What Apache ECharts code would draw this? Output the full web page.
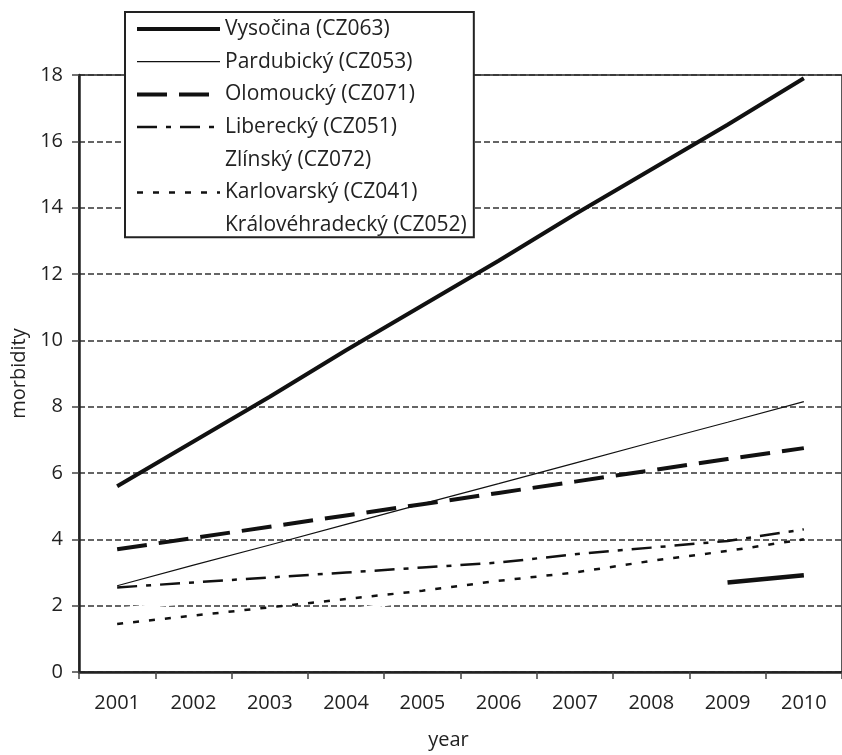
<!DOCTYPE html>
<html>
<head>
<meta charset="utf-8">
<script src="https://cdn.jsdelivr.net/npm/echarts@6/dist/echarts.min.js"></script>
<style>
  html, body { margin: 0; padding: 0; background: #fff; }
  #chart { width: 842px; height: 755px; }
</style>
</head>
<body>
<div id="chart"></div>
<script>
// roky
var years = ['2001', '2002', '2003', '2004', '2005', '2006', '2007', '2008', '2009', '2010'];

// hodnoty
var vysocina = [5.6, 6.95, 8.3, 9.7, 11.05, 12.4, 13.8, 15.15, 16.5, 17.9];
var pardubicky = [2.6, 3.22, 3.83, 4.45, 5.07, 5.68, 6.3, 6.92, 7.53, 8.15];
var olomoucky = [3.7, 4.04, 4.38, 4.72, 5.06, 5.4, 5.74, 6.08, 6.42, 6.75];
var liberecky = [2.55, 2.7, 2.85, 3.0, 3.15, 3.3, 3.55, 3.75, 3.95, 4.3];
var zlinsky = [1.9, 2.1, 2.15, 2.2, 2.2, 2.25, 2.3, 2.35, 2.4, 2.45];
var karlovarsky = [1.45, 1.7, 1.95, 2.2, 2.45, 2.75, 3.0, 3.35, 3.65, 4.0];
var kralovehradecky = [1.6, 1.7, 1.8, 1.85, 2.2, 2.3, 2.4, 2.5, 2.6, 2.7];
var extraSegment = [null, null, null, null, null, null, null, null, 2.7, 2.92];

var yTicks = { min: 0, max: 18, interval: 2 };

var font = 'Open Sans';

/*styly čar: [šířka, typ, barva]*/
var styles = {
    'Vysočina (CZ063)': [4, 'solid', '#111'],
    'Pardubický (CZ053)': [1.2, 'solid', '#111'],
    'Olomoucký (CZ071)': [4, [30, 12], '#111'],
    'Liberecký (CZ051)': [2.5, [20, 9, 5, 9], '#111'],
    'Zlínský (CZ072)': [3, 'solid', '#fff'],
    'Karlovarský (CZ041)': [2.5, [6, 10], '#111'],
    'Královéhradecký (CZ052)': [3, 'solid', '#fff']
};
var legendOrder = ['Vysočina (CZ063)', 'Pardubický (CZ053)', 'Olomoucký (CZ071)', 'Liberecký (CZ051)',
    'Zlínský (CZ072)', 'Karlovarský (CZ041)', 'Královéhradecký (CZ052)'];

function line(name, data, z) {
    var s = styles[name] || [4.5, 'solid', '#111'];
    return {
        name: name,
        type: 'line',
        data: data,
        symbol: 'none',
        silent: true,
        z: z,
        itemStyle: { color: s[2], opacity: 0 },
        lineStyle: { color: s[2], width: s[0], type: s[1], cap: 'butt' }
    };
}

var legendData = legendOrder.map(function (n) {
    var s = styles[n];
    return {
        name: n,
        itemStyle: { opacity: 0 },
        lineStyle: { color: s[2], width: s[0], type: s[1], opacity: 1 }
    };
});

var myChart = echarts.init(document.getElementById('chart'));
myChart.setOption({
    animation: false,
    backgroundColor: '#fff',
    grid: {
        left: 79, top: 75, bottom: 79, right: -12,
        show: true, borderColor: '#222', borderWidth: 1.5
    },
    legend: {
        orient: 'vertical',
        left: 125,
        top: 12,
        padding: [6, 7, 1, 10],
        itemWidth: 83,
        itemHeight: 14,
        itemGap: 10.7,
        backgroundColor: '#fff',
        borderColor: '#222',
        borderWidth: 2,
        inactiveColor: '#222',
        textStyle: { fontFamily: font, fontSize: 21, lineHeight: 22, color: '#222' },
        data: legendData
    },
    xAxis: {
        type: 'category',
        data: years,
        boundaryGap: true,
        name: 'year',
        nameLocation: 'middle',
        nameGap: 58,
        nameTextStyle: { fontFamily: font, fontSize: 20, color: '#222', padding: [0, 24, 0, 0] },
        axisLine: { lineStyle: { color: '#222', width: 2.5 } },
        axisTick: { show: true, length: 7, lineStyle: { color: '#444', width: 1.5 } },
        axisLabel: { fontFamily: font, fontSize: 20, color: '#222', margin: 21 },
        splitLine: { show: false }
    },
    yAxis: {
        type: 'value',
        min: yTicks.min,
        max: yTicks.max,
        interval: yTicks.interval,
        name: 'morbidity',
        nameLocation: 'middle',
        nameGap: 50,
        nameTextStyle: { fontFamily: font, fontSize: 20, color: '#222' },
        axisLine: { show: true, lineStyle: { color: '#222', width: 2.5 } },
        axisTick: { show: true, length: 7, lineStyle: { color: '#444', width: 1.5 } },
        axisLabel: { fontFamily: font, fontSize: 20, color: '#222', margin: 16 },
        splitLine: { show: true, lineStyle: { color: '#333', width: 1.5, type: [6, 3] } }
    },
    series: [
        line('Zlínský (CZ072)', zlinsky, 2),
        line('Královéhradecký (CZ052)', kralovehradecky, 2),
        line('Vysočina (CZ063)', vysocina, 3),
        line('Pardubický (CZ053)', pardubicky, 3),
        line('Olomoucký (CZ071)', olomoucky, 3),
        line('Liberecký (CZ051)', liberecky, 3),
        line('Karlovarský (CZ041)', karlovarsky, 3),
        line('', extraSegment, 3)
    ]
});
</script>
</body>
</html>
